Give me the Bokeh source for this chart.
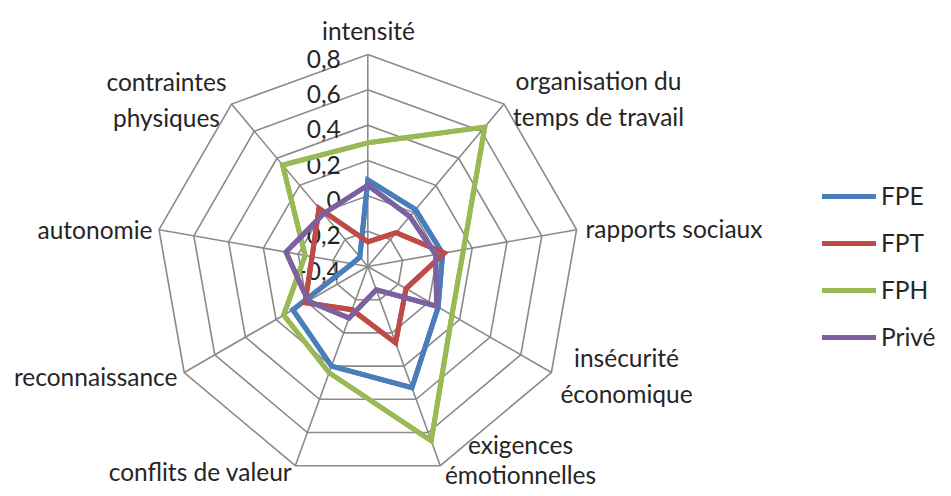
import numpy as np
from bokeh.plotting import figure
from bokeh.models import Range1d, Legend, LegendItem, ColumnDataSource
from bokeh.embed import file_html
from bokeh.resources import INLINE
from bokeh.core.properties import value

# ---------------- data ----------------
categories = ["intensité", "organisation du\ntemps de travail", "rapports sociaux",
              "insécurité\néconomique", "exigences\némotionnelles", "conflits de valeur",
              "reconnaissance", "autonomie", "contraintes\nphysiques"]
series_names = ["FPE", "FPT", "FPH", "Privé"]
FPE = [0.09, 0.02, 0.03, 0.06, 0.33, 0.20, 0.09, -0.31, -0.33]
FPT = [-0.26, -0.15, 0.04, -0.15, 0.06, -0.14, 0.01, -0.08, 0.03]
FPH = [0.30, 0.63, 0.15, 0.15, 0.65, 0.24, 0.15, -0.04, 0.35]
PRIVE = [0.06, -0.03, -0.01, 0.05, -0.26, -0.09, -0.01, 0.07, -0.01]
ticks = [-0.4, -0.2, 0.0, 0.2, 0.4, 0.6, 0.8]
tick_labels = ["-0,4", "-0,2", "0", "0,2", "0,4", "0,6", "0,8"]

colors = ["#4A7EBB", "#BE4B48", "#98B954", "#7D60A0"]
FONT = "Lato"
FS = "24.5px"
TXT = "#262626"

vmin, vmax = ticks[0], ticks[-1]
R = 212.0
n = len(categories)
angles = [np.pi / 2 - 2 * np.pi * i / n for i in range(n)]


def radius(v):
    return (v - vmin) / (vmax - vmin) * R


def polygon(vals):
    xs = [radius(v) * np.cos(a) for v, a in zip(vals, angles)]
    ys = [radius(v) * np.sin(a) for v, a in zip(vals, angles)]
    return xs, ys


W, H = 943, 488
cx, cy = 367.3, 266.0  # centre position in plot pixels from top-left
p = figure(width=W, height=H, output_backend="svg", toolbar_location=None,
           x_range=Range1d(-cx, W - cx), y_range=Range1d(-(H - cy), cy),
           min_border=0, background_fill_color="white", border_fill_color="white")
p.axis.visible = False
p.grid.visible = False
p.outline_line_color = None

grid_color = "#8A8A8A"
# rings
for t in ticks[1:]:
    xs, ys = polygon([t] * n)
    p.patch(xs, ys, fill_color=None, line_color=grid_color, line_width=1.6,
            line_join="miter")
# spokes
for a in angles:
    p.line([0, R * np.cos(a)], [0, R * np.sin(a)], line_color=grid_color, line_width=1.6)

# tick labels
tick_src = ColumnDataSource(dict(x=[-27.0] * len(ticks),
                                 y=[radius(t) - 4 for t in ticks],
                                 text=tick_labels))
p.text(x="x", y="y", text="text", source=tick_src, text_align="right",
       text_baseline="middle", text_font=value(FONT), text_font_size=FS,
       text_color=TXT)

# category labels (layout offsets relative to centre, in px)
label_pos = [(0.7, 236, "center", 1.22), (230.7, 168, "center", 1.22),
             (217.7, 38, "left", 1.22), (258.7, -109, "center", 1.22),
             (152.7, -193, "center", 1.05), (-167.3, -205, "center", 1.22),
             (-190.3, -110, "right", 1.22), (-215.3, 37, "right", 1.22),
             (-201.3, 167, "center", 1.22)]
for (lx, ly, al, lh), cat in zip(label_pos, categories):
    p.text(x=[lx], y=[ly], text=[cat], text_align=al, text_baseline="middle",
           text_font=value(FONT), text_font_size=FS, text_color=TXT,
           text_line_height=lh)

# series (closed outlines)
items = []
for name, vals, col in zip(series_names, [FPE, FPT, FPH, PRIVE], colors):
    xs, ys = polygon(vals)
    key = p.line(xs + xs[:1], ys + ys[:1], line_color=col, line_width=5,
                 line_cap="round", line_join="miter")
    p.patch(xs, ys, fill_color=None, line_color=col, line_width=5, line_join="miter")
    items.append(LegendItem(label=name, renderers=[key]))

legend = Legend(items=items, location=(822, 137), orientation="vertical",
                glyph_width=54, glyph_height=28, label_height=28, spacing=18,
                padding=0, margin=0, label_standoff=5,
                label_text_font=FONT, label_text_font_size=FS,
                label_text_color=TXT, border_line_color=None,
                background_fill_alpha=0)
p.add_layout(legend)

open("out.html", "w").write(file_html(p, INLINE))
